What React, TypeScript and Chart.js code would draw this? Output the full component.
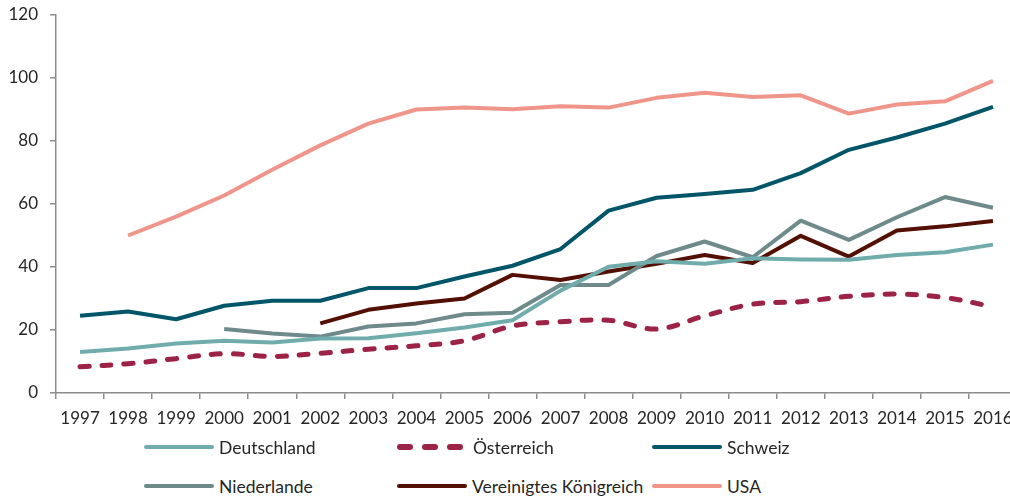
import React, { useEffect, useRef } from "react";
import { Chart, registerables } from "chart.js";

Chart.register(...registerables);

const years = ["1997","1998","1999","2000","2001","2002","2003","2004","2005","2006","2007","2008","2009","2010","2011","2012","2013","2014","2015","2016"];

const deutschland = [13.0,14.1,15.7,16.6,16.0,17.3,17.4,19.0,20.8,23.1,32.5,40.1,41.8,41.0,42.8,42.4,42.3,43.8,44.7,47.1];
const oesterreich = [8.3,9.3,10.9,12.5,11.6,12.6,13.9,15.0,16.6,21.3,22.6,23.1,20.3,24.5,28.2,29.0,30.7,31.4,30.3,27.4];
const schweiz = [24.5,25.9,23.4,27.7,29.3,29.3,33.3,33.3,37.0,40.4,45.7,57.9,62.0,63.2,64.5,69.8,77.2,81.1,85.5,90.8];
const niederlande = [null,null,null,20.3,18.9,17.9,21.1,22.1,25.0,25.5,34.3,34.3,43.5,48.1,43.1,54.7,48.6,55.8,62.2,58.8];
const vereinigtesKoenigreich = [null,null,null,null,null,22.1,26.4,28.4,30.0,37.5,35.9,38.6,41.0,43.8,41.3,49.9,43.3,51.6,52.9,54.6];
const usa = [null,50.0,56.0,62.7,70.9,78.6,85.5,90.0,90.6,90.1,91.0,90.6,93.7,95.3,94.0,94.5,88.7,91.6,92.6,99.1];

const yTicks = [0, 20, 40, 60, 80, 100, 120];

const seriesNames = ["Deutschland", "Österreich", "Schweiz", "Niederlande", "Vereinigtes Königreich", "USA"];
const seriesColors = ["#70acab", "#9c2246", "#005668", "#6e8a8a", "#530f02", "#ef958a"];

const FONT = "Lato, 'Open Sans', sans-serif";

export default function App() {
  const canvasRef = useRef<HTMLCanvasElement | null>(null);

  useEffect(() => {
    document.body.style.margin = "0";
    const canvas = canvasRef.current;
    if (!canvas) return;
    const data = [deutschland, oesterreich, schweiz, niederlande, vereinigtesKoenigreich, usa];
    const chart = new Chart(canvas, {
      type: "line",
      data: {
        labels: years,
        datasets: seriesNames.map((name, i) => ({
          label: name,
          data: data[i] as (number | null)[],
          borderColor: seriesColors[i],
          backgroundColor: seriesColors[i],
          borderWidth: i === 1 ? 5 : 4,
          borderDash: i === 1 ? [9, 13] : [],
          borderCapStyle: i === 1 ? "round" : "butt",
          borderJoinStyle: "round",
          tension: i === 1 ? 0.35 : 0,
          pointRadius: 0,
          pointHoverRadius: 0,
          spanGaps: false,
          fill: false,
        })),
      },
      options: {
        animation: false,
        responsive: false,
        maintainAspectRatio: false,
        layout: { padding: { top: 15, left: 0, right: 13, bottom: 0 } },
        plugins: { legend: { display: false }, tooltip: { enabled: false } },
        scales: {
          x: {
            offset: true,
            grid: {
              offset: true,
              drawOnChartArea: false,
              drawTicks: true,
              tickLength: 6,
              color: "#8c8c8c",
              lineWidth: 1.5,
            },
            border: { color: "#8c8c8c", width: 1.5 },
            ticks: {
              color: "#262626",
              font: { family: FONT, size: 17 },
              padding: 9,
              maxRotation: 0,
              autoSkip: false,
            },
            afterFit: (scale: any) => {
              scale.height = 47;
              scale.paddingLeft = 0;
              scale.paddingRight = 0;
            },
          },
          y: {
            min: 0,
            max: 120,
            afterBuildTicks: (scale: any) => {
              scale.ticks = yTicks.map((v) => ({ value: v }));
            },
            grid: {
              drawOnChartArea: false,
              drawTicks: true,
              tickLength: 6,
              color: "#8c8c8c",
              lineWidth: 1.5,
            },
            border: { color: "#8c8c8c", width: 1.5 },
            ticks: {
              color: "#262626",
              font: { family: FONT, size: 17 },
              padding: 12,
            },
            afterFit: (scale: any) => {
              scale.width = 56;
              scale.paddingTop = 0;
              scale.paddingBottom = 0;
            },
          },
        },
      },
    });
    return () => chart.destroy();
  }, []);

  const legendPos = [
    { x: 144, y: 447 },
    { x: 397, y: 447 },
    { x: 652, y: 447 },
    { x: 144, y: 486 },
    { x: 397, y: 486 },
    { x: 652, y: 486 },
  ];

  return (
    <div style={{ position: "relative", width: 1010, height: 497, overflow: "hidden", background: "#fff" }}>
      <canvas ref={canvasRef} width={1030} height={440} style={{ position: "absolute", left: 0, top: 0, width: 1030, height: 440 }} />
      {seriesNames.map((name, i) => (
        <div
          key={name}
          style={{
            position: "absolute",
            left: legendPos[i].x,
            top: legendPos[i].y - 12,
            height: 24,
            display: "flex",
            alignItems: "center",
            fontFamily: FONT,
            fontSize: 17.5,
            color: "#262626",
            whiteSpace: "nowrap",
          }}
        >
          {i === 1 ? (
            <div style={{ width: 66, display: "flex", justifyContent: "space-between", marginRight: 10 }}>
              {[0, 1, 2].map((k) => (
                <div key={k} style={{ width: 16, height: 6, borderRadius: 3, background: seriesColors[i] }} />
              ))}
            </div>
          ) : (
            <div style={{ width: 70, height: 4, borderRadius: 2, background: seriesColors[i], marginRight: 5 }} />
          )}
          <span>{name}</span>
        </div>
      ))}
    </div>
  );
}
